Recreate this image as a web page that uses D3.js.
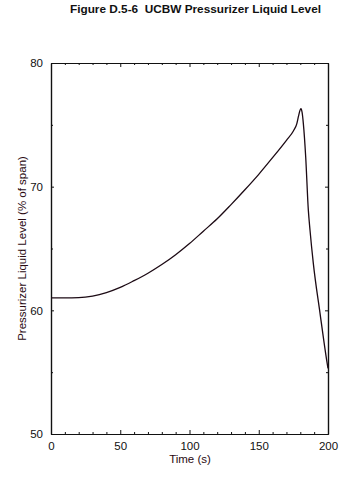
<!DOCTYPE html>
<html><head><meta charset="utf-8">
<script src="https://cdn.jsdelivr.net/npm/d3@7/dist/d3.min.js"></script>
<style>body{margin:0;background:#fff}svg{display:block;font-family:"Liberation Sans",Arial,sans-serif}</style>
</head><body><svg id="c" width="356" height="480"></svg>
<script>
const title = "Figure D.5-6  UCBW Pressurizer Liquid Level";
const xLabel = "Time (s)";
const yLabel = "Pressurizer Liquid Level (% of span)";
const xTicks = [0, 50, 100, 150, 200];
const yTicks = [50, 60, 70, 80];
const time = [0,10,20,30,40,50,60,70,80,90,100,110,120,130,140,150,160,170,175,177.5,178.7,179.7,180.5,181.3,182.2,183.9,185.8,187,189.4,194.2,199,200];
const level = [61.0,61.0,61.02,61.15,61.43,61.85,62.4,63.0,63.7,64.5,65.4,66.4,67.4,68.55,69.75,71.0,72.35,73.75,74.5,75.1,75.7,76.15,76.3,76.0,75.1,72.4,68.1,66.5,63.8,59.8,56.0,55.3];

const svg = d3.select("#c");
const m = {l:51, r:328, t:63, b:434};
const x = d3.scaleLinear().domain([0,200]).range([m.l, m.r]);
const y = d3.scaleLinear().domain([50,80]).range([m.b, m.t]);
const ink = "#111";

svg.append("text").attr("x",195.5).attr("y",12.5).attr("text-anchor","middle")
  .style("white-space","pre")
  .attr("font-size","11.8px").attr("font-weight","bold").attr("fill",ink).text(title);

const minorX = d3.range(0,201,10), minorY = d3.range(50,81,5);
const g = svg.append("g");
// bottom axis
g.append("g").attr("transform",`translate(0,${m.b})`)
  .call(d3.axisBottom(x).tickValues(xTicks).tickFormat(d3.format("d")).tickSizeInner(-4).tickSizeOuter(0).tickPadding(8));
g.append("g").attr("transform",`translate(0,${m.b})`)
  .call(d3.axisBottom(x).tickValues(minorX.filter(d=>d%50)).tickFormat("").tickSizeInner(-2).tickSizeOuter(0));
// top
g.append("g").attr("transform",`translate(0,${m.t})`)
  .call(d3.axisTop(x).tickValues(xTicks).tickFormat("").tickSizeInner(-4).tickSizeOuter(0));
g.append("g").attr("transform",`translate(0,${m.t})`)
  .call(d3.axisTop(x).tickValues(minorX.filter(d=>d%50)).tickFormat("").tickSizeInner(-2).tickSizeOuter(0));
// left
g.append("g").attr("transform",`translate(${m.l},0)`)
  .call(d3.axisLeft(y).tickValues(yTicks).tickFormat(d3.format("d")).tickSizeInner(-3).tickSizeOuter(0).tickPadding(8));
g.append("g").attr("transform",`translate(${m.l},0)`)
  .call(d3.axisLeft(y).tickValues(minorY.filter(d=>d%10)).tickFormat("").tickSizeInner(-2).tickSizeOuter(0));
// right
g.append("g").attr("transform",`translate(${m.r},0)`)
  .call(d3.axisRight(y).tickValues(yTicks).tickFormat("").tickSizeInner(-3).tickSizeOuter(0));
g.append("g").attr("transform",`translate(${m.r},0)`)
  .call(d3.axisRight(y).tickValues(minorY.filter(d=>d%10)).tickFormat("").tickSizeInner(-2).tickSizeOuter(0));

g.selectAll(".domain").attr("stroke",ink).attr("stroke-width",1.2);
g.selectAll(".tick line").attr("stroke",ink).attr("stroke-width",1);
g.selectAll(".tick text").attr("font-size","11.5px").attr("fill",ink).attr("font-family","'Liberation Sans',Arial,sans-serif");

const line = d3.line().x((d,i)=>x(time[i])).y((d,i)=>y(level[i])).curve(d3.curveMonotoneX);
svg.append("path").datum(level).attr("d",line).attr("fill","none")
  .attr("stroke","#1c0a14").attr("stroke-width",1.3);

svg.append("text").attr("x",190).attr("y",463).attr("text-anchor","middle")
  .attr("font-size","11.5px").attr("fill","#2a0a12").text(xLabel);
svg.append("text").attr("transform","translate(26,248.5) rotate(-90)").attr("text-anchor","middle")
  .attr("font-size","11.5px").attr("fill","#2a0a12").text(yLabel);
</script></body></html>
